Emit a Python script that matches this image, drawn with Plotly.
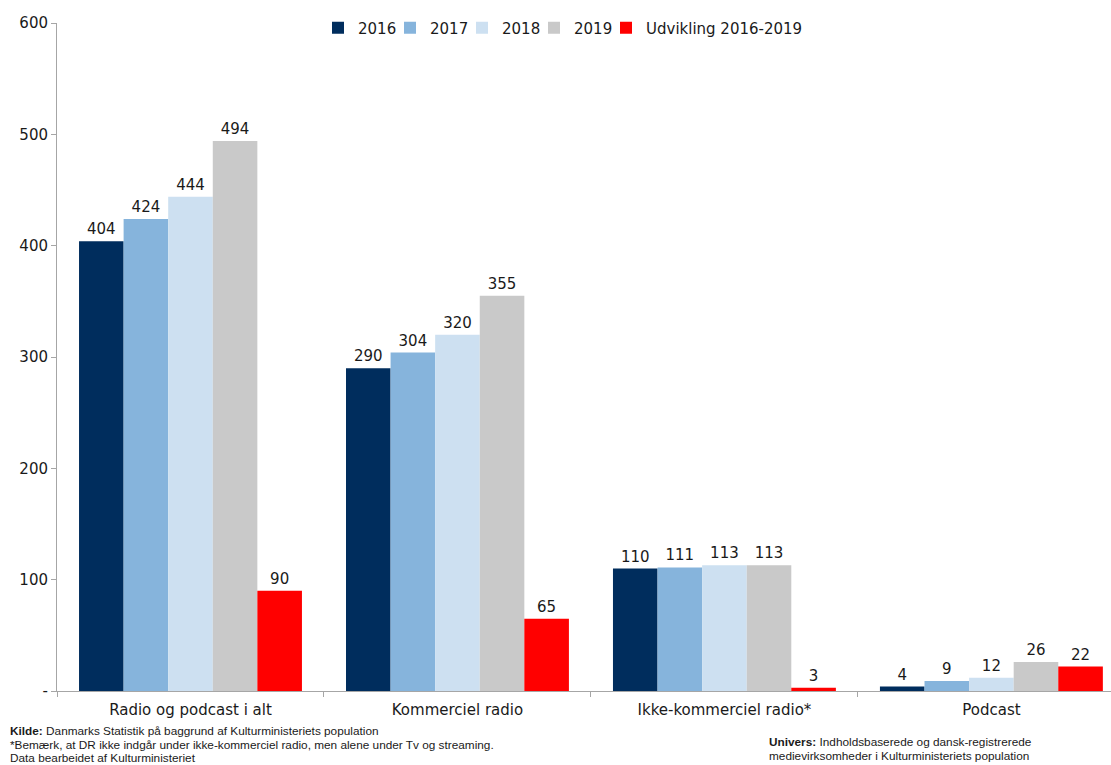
import plotly.graph_objects as go

categories = ["Radio og podcast i alt", "Kommerciel radio", "Ikke-kommerciel radio*", "Podcast"]
series_names = ["2016", "2017", "2018", "2019", "Udvikling 2016-2019"]
v2016 = [404, 290, 110, 4]
v2017 = [424, 304, 111, 9]
v2018 = [444, 320, 113, 12]
v2019 = [494, 355, 113, 26]
v_udv = [90, 65, 3, 22]
y_ticks = [0, 100, 200, 300, 400, 500, 600]
y_ticktext = ["-", "100", "200", "300", "400", "500", "600"]

colors = ["#002d5d", "#86b4dc", "#cde0f1", "#c9c9c9", "#ff0000"]
FONT = "DejaVu Sans, Verdana, sans-serif"
NOTE_FONT = "Liberation Sans, Arial, sans-serif"

W, H = 1111, 765
ML, MR, MT, MB = 57, 0, 23, 74
PW, PH = W - ML - MR, H - MT - MB

# one legend per series so the entries sit as tightly as in the original
legend_ids = ["legend", "legend2", "legend3", "legend4", "legend5"]
legend_left_px = [318, 390, 462, 534, 606]

fig = go.Figure()
for name, vals, col, lid in zip(series_names, [v2016, v2017, v2018, v2019, v_udv], colors, legend_ids):
    fig.add_trace(go.Bar(
        x=categories, y=vals, name=name,
        marker=dict(color=col, line=dict(width=0)),
        text=[str(v) for v in vals], textposition="outside",
        textfont=dict(size=15, color="#1a1a1a", family=FONT),
        cliponaxis=False, legend=lid, showlegend=True,
    ))

leg_y = 1 - 5 / PH
legends = {
    lid: dict(orientation="h", xanchor="left", x=(px - ML) / PW, yanchor="middle", y=leg_y,
              font=dict(size=15), itemwidth=30, bgcolor="rgba(0,0,0,0)")
    for lid, px in zip(legend_ids, legend_left_px)
}

fig.update_layout(
    width=W, height=H, showlegend=True,
    barmode="group", bargap=0.165, bargroupgap=0,
    plot_bgcolor="white", paper_bgcolor="white",
    font=dict(family=FONT, size=15, color="#1a1a1a"),
    margin=dict(l=ML, r=MR, t=MT, b=MB, autoexpand=False),
    uniformtext=dict(minsize=15, mode="show"),
    xaxis=dict(
        range=[-0.5, 3.448], showline=True, linecolor="#a6a6a6", linewidth=1,
        tickson="boundaries", ticks="outside", ticklen=5, tickcolor="#a6a6a6",
        tickfont=dict(size=15), showgrid=False, automargin=False, ticklabelstandoff=5,
    ),
    yaxis=dict(
        range=[0, 600], tickvals=y_ticks, ticktext=y_ticktext,
        showline=True, linecolor="#a6a6a6", linewidth=1,
        ticks="outside", ticklen=5, tickcolor="#a6a6a6",
        tickfont=dict(size=15), showgrid=False, zeroline=False, automargin=False,
    ),
    **legends,
)


def note(text, x_px, y_px):
    fig.add_annotation(
        xref="paper", yref="paper", x=(x_px - ML) / PW, y=(H - MB - y_px) / PH,
        xanchor="left", yanchor="middle", align="left", showarrow=False,
        font=dict(size=11.8, family=NOTE_FONT, color="#1a1a1a"), text=text,
    )


note("<b>Kilde:</b> Danmarks Statistik på baggrund af Kulturministeriets population", 8, 731)
note("*Bemærk, at DR ikke indgår under ikke-kommerciel radio, men alene under Tv og streaming.", 8, 745)
note("Data bearbeidet af Kulturministeriet", 8, 758)
note("<b>Univers:</b> Indholdsbaserede og dansk-registrerede", 767, 742)
note("medievirksomheder i Kulturministeriets population", 767, 756)

fig.write_html("out.html", config={"displayModeBar": False},
               post_script="document.body.style.margin='0';")
